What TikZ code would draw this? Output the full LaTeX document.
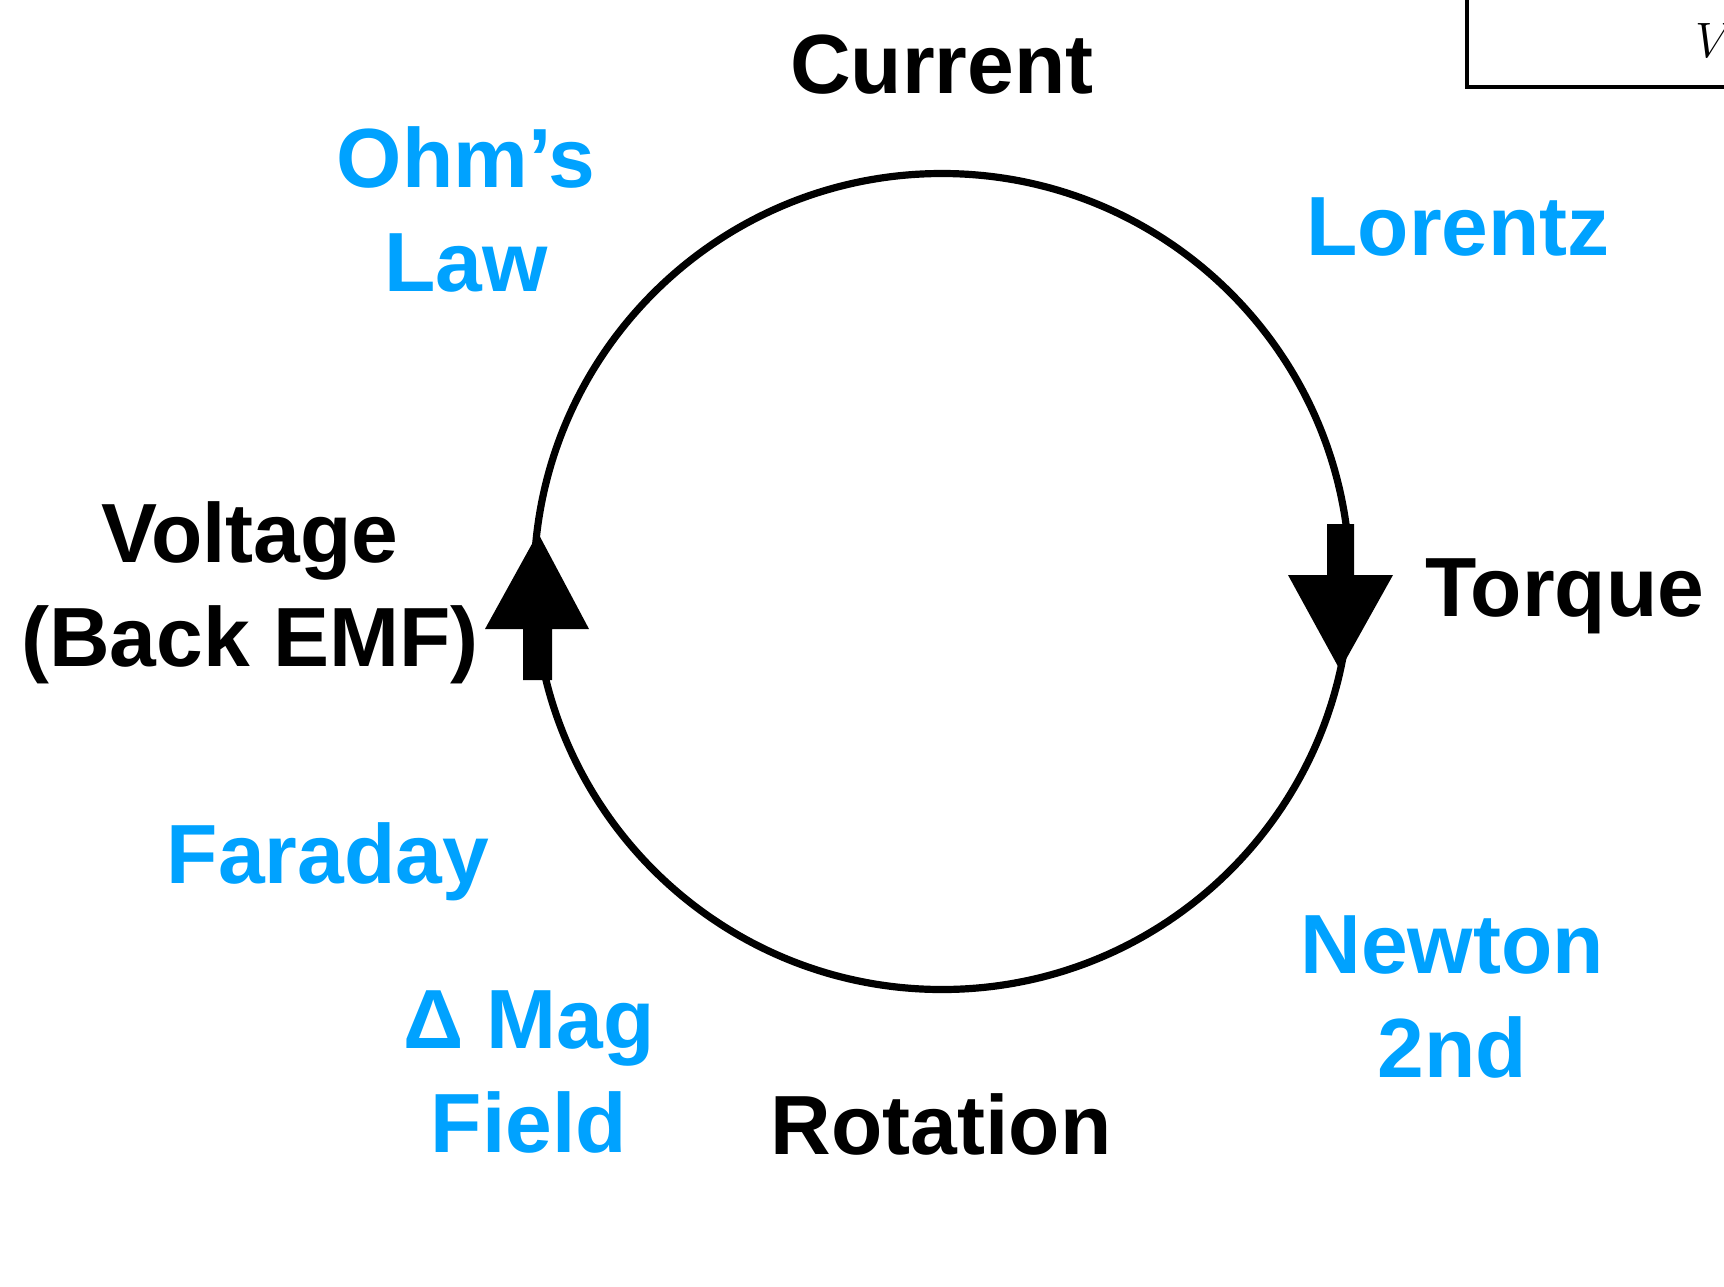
\documentclass[tikz,border=0pt]{standalone}
\usepackage{fontspec}
\setmainfont{Liberation Sans}
\definecolor{lawblue}{RGB}{0,162,255}
\tikzset{
  lbl/.style={inner sep=0pt, anchor=base, font=\fontsize{42}{52}\selectfont\bfseries},
  law/.style={lbl, text=lawblue},
  qty/.style={lbl, text=black},
  loopline/.style={line width=3.6pt, draw=black},
  blockarrow/.style={fill=black, draw=none},
}
\newcommand{\twoline}[2]{\setlength{\tabcolsep}{0pt}\begin{tabular}[t]{c}#1\\#2\end{tabular}}
\begin{document}
\begin{tikzpicture}[x=0.5pt,y=-0.5pt]
\useasboundingbox (0,0) rectangle (1724,1286);
\clip (0,0) rectangle (1724,1286);
% partial box at top right
\coordinate (boxtop) at (1467,-10);
\coordinate (boxcorner) at (1467,87);
\coordinate (boxright) at (1740,87);
\draw[line width=2pt] (boxtop) -- (boxcorner) -- (boxright);
\node[inner sep=0pt, anchor=base west, font=\fontsize{28}{30}\selectfont] (vlab) at (1695,57) {$V$};
% loop
\coordinate (c) at (942,581.5);
\draw[loopline] (c) circle[radius=408];
% arrows
\fill[blockarrow] (538,533) -- (589,629) -- (552,629) -- (552,680) -- (523,680) -- (523,629) -- (485,629) -- cycle;
\fill[blockarrow] (1327,524) -- (1354,524) -- (1354,575) -- (1393,575) -- (1340,670) -- (1288,575) -- (1327,575) -- cycle;
% labels
\node[qty] (current) at (942,93) {Current};
\node[law] (ohm) at (466,187) {\twoline{Ohm’s}{Law}};
\node[law] (lorentz) at (1458,255) {Lorentz};
\node[qty] (voltage) at (250,562) {\twoline{Voltage}{(Back EMF)}};
\node[qty] (torque) at (1565,616) {Torque};
\node[law] (faraday) at (328,883) {Faraday};
\node[law] (newton) at (1452,973) {\twoline{Newton}{2nd}};
\node[law] (dmag) at (529,1048) {\twoline{Δ Mag}{Field}};
\node[qty] (rotation) at (941,1154) {Rotation};
\end{tikzpicture}
\end{document}
